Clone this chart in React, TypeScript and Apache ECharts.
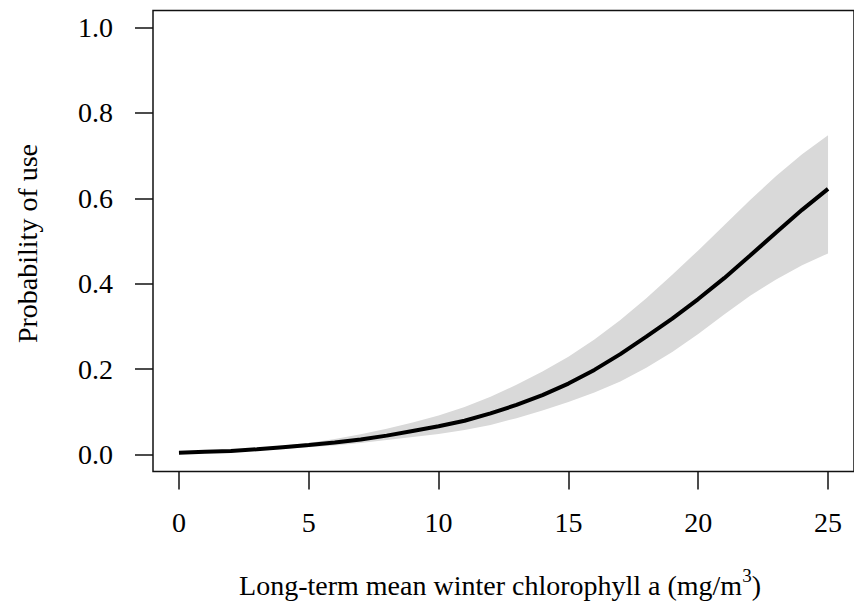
import React, { useEffect, useRef } from "react";
import * as echarts from "echarts";

const xValues = [0, 1, 2, 3, 4, 5, 6, 7, 8, 9, 10, 11, 12, 13, 14, 15, 16, 17, 18, 19, 20, 21, 22, 23, 24, 25];
const meanProb = [0.004, 0.006, 0.008, 0.012, 0.017, 0.022, 0.028, 0.035, 0.044, 0.055, 0.066, 0.079, 0.096, 0.116, 0.139, 0.166, 0.198, 0.235, 0.276, 0.318, 0.364, 0.413, 0.466, 0.520, 0.573, 0.622];
const lowerProb = [0.003, 0.004, 0.006, 0.009, 0.013, 0.017, 0.021, 0.027, 0.034, 0.041, 0.048, 0.057, 0.069, 0.085, 0.103, 0.123, 0.145, 0.171, 0.203, 0.240, 0.282, 0.328, 0.372, 0.410, 0.443, 0.471];
const upperProb = [0.006, 0.008, 0.011, 0.015, 0.021, 0.027, 0.036, 0.047, 0.060, 0.075, 0.091, 0.111, 0.135, 0.163, 0.194, 0.229, 0.269, 0.315, 0.366, 0.421, 0.478, 0.537, 0.596, 0.652, 0.703, 0.748];
const xTicks = [0, 5, 10, 15, 20, 25];
const yTicks = [0, 0.2, 0.4, 0.6, 0.8, 1.0];
const xTitle = "Long-term mean winter chlorophyll a (mg/m";
const yTitle = "Probability of use";

const FONT = "'Liberation Serif', 'Times New Roman', serif";

export default function App() {
  const ref = useRef<HTMLDivElement>(null);
  useEffect(() => {
    if (!ref.current) return;
    const chart = echarts.init(ref.current, undefined, { renderer: "svg" });
    const mean = xValues.map((x, i) => [x, meanProb[i]]);
    const bandData = xValues.map((x, i) => [x, lowerProb[i], upperProb[i]]);
    chart.setOption({
      animation: false,
      backgroundColor: "#fff",
      grid: {
        left: 153,
        top: 10.5,
        right: -6,
        bottom: 141.5,
        show: true,
        borderColor: "#111",
        borderWidth: 1.5,
        backgroundColor: "transparent",
      },
      xAxis: {
        type: "value",
        min: -1,
        max: 26,
        axisLine: { show: false, onZero: false },
        splitLine: { show: false },
        axisTick: {
          show: true,
          customValues: xTicks,
          length: 18,
          inside: false,
          lineStyle: { color: "#111", width: 1.5 },
        },
        axisLabel: {
          customValues: xTicks,
          margin: 37,
          color: "#000",
          fontFamily: FONT,
          fontSize: 28,
        },
      },
      yAxis: {
        type: "value",
        min: -0.04,
        max: 1.04,
        axisLine: { show: false, onZero: false },
        splitLine: { show: false },
        axisTick: {
          show: true,
          customValues: yTicks,
          length: 18,
          inside: false,
          lineStyle: { color: "#111", width: 1.5 },
        },
        axisLabel: {
          customValues: yTicks,
          margin: 40,
          color: "#000",
          fontFamily: FONT,
          fontSize: 28,
          formatter: (v: number) => v.toFixed(1),
        },
      },
      series: [
        {
          name: "band",
          type: "custom",
          data: bandData,
          encode: { x: 0, y: [1, 2] },
          silent: true,
          z: 1,
          renderItem: (params: any, api: any) => {
            if (params.dataIndex !== 0) return null;
            const top = bandData.map((d) => api.coord([d[0], d[2]]));
            const bottom = bandData
              .slice()
              .reverse()
              .map((d) => api.coord([d[0], d[1]]));
            return {
              type: "polygon",
              shape: { points: top.concat(bottom) },
              style: { fill: "#d9d9d9", stroke: null },
            };
          },
        },
        {
          name: "mean",
          type: "line",
          data: mean,
          symbol: "none",
          lineStyle: { color: "#000", width: 4 },
          z: 5,
        },
      ],
      graphic: [
        {
          type: "text",
          x: 27,
          y: 243.5,
          rotation: Math.PI / 2,
          style: {
            text: yTitle,
            fill: "#000",
            font: `28px ${FONT}`,
            align: "center",
            verticalAlign: "middle",
          },
        },
        {
          type: "text",
          x: 500,
          y: 585,
          style: {
            text: xTitle + "{sup|3})",
            fill: "#000",
            font: `28px ${FONT}`,
            align: "center",
            verticalAlign: "middle",
            rich: {
              sup: {
                fontSize: 19,
                fontFamily: FONT,
                lineHeight: 19,
                padding: [0, 0, 20, 0],
                fill: "#000",
              },
            },
          },
        },
      ],
    });
    return () => chart.dispose();
  }, []);
  return (
    <div
      ref={ref}
      style={{ position: "fixed", left: 0, top: 0, width: 854, height: 613 }}
    />
  );
}
